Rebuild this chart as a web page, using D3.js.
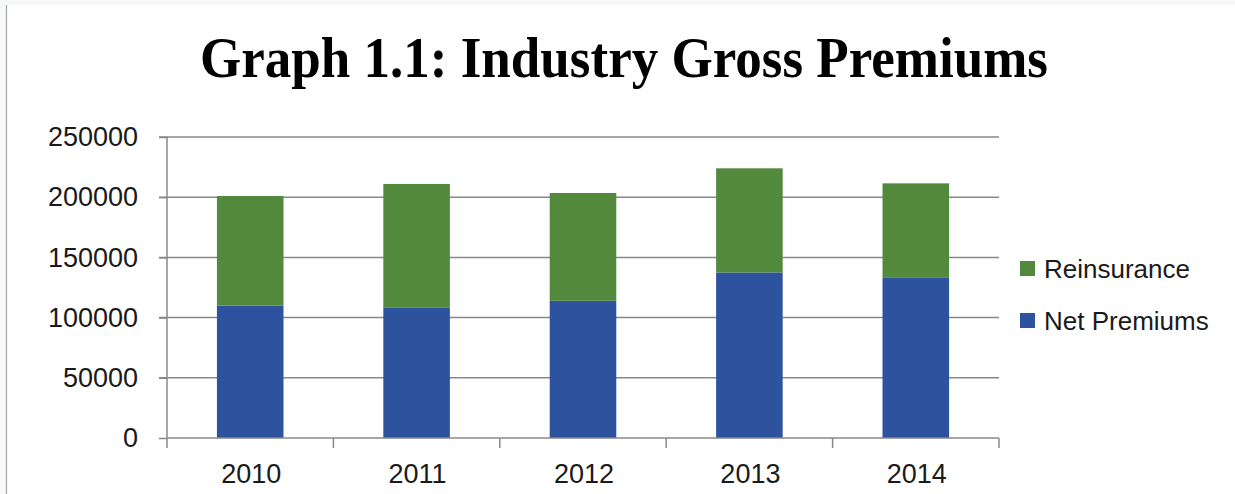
<!DOCTYPE html>
<html>
<head>
<meta charset="utf-8">
<script src="https://cdn.jsdelivr.net/npm/d3@7"></script>
<style>
  body { margin: 0; background: #fff; }
  svg { display: block; }
</style>
</head>
<body>
<div id="chart"></div>
<script>
// data
var years = ["2010", "2011", "2012", "2013", "2014"];
var netPremiums = [110000, 108500, 114000, 137500, 133000];
var reinsurance = [91000, 102500, 89500, 86500, 78500];
var yTicks = [0, 50000, 100000, 150000, 200000, 250000];
var seriesNames = ["Net Premiums", "Reinsurance"];
var seriesColors = ["#2d539e", "#52893d"];

var W = 1235, H = 494;
var margin = { top: 137, right: 236, bottom: 56, left: 167 };
var width = W - margin.left - margin.right,
  height = H - margin.top - margin.bottom;

var svg = d3.select("#chart")
  .append("svg")
  .attr("width", W)
  .attr("height", H);

// outer frame (page edge)
svg.append("rect").attr("x", 0).attr("y", 0).attr("width", W).attr("height", 5).attr("fill", "#f7f8fa");
svg.append("rect").attr("x", 0).attr("y", 0).attr("width", 6).attr("height", H).attr("fill", "#f7f8fa");
svg.append("line").attr("x1", 6.5).attr("x2", 6.5).attr("y1", 5).attr("y2", H)
  .attr("stroke", "#a6a6a6").attr("stroke-width", 1.2);

// title
svg.append("text")
  .attr("x", 624)
  .attr("y", 77)
  .attr("text-anchor", "middle")
  .attr("font-family", "Liberation Serif, Times New Roman, serif")
  .attr("font-weight", "bold")
  .attr("font-size", 58)
  .attr("textLength", 848)
  .attr("lengthAdjust", "spacingAndGlyphs")
  .attr("fill", "#000")
  .text("Graph 1.1: Industry Gross Premiums");

var g = svg.append("g")
  .attr("transform", "translate(" + margin.left + "," + margin.top + ")");

var x = d3.scaleBand()
  .domain(years)
  .range([0, width])
  .paddingInner(0.6)
  .paddingOuter(0.3);

var y = d3.scaleLinear()
  .domain([0, 250000])
  .range([height, 0]);

// gridlines
g.append("g")
  .selectAll("line")
  .data(yTicks.filter(function(d) { return d > 0; }))
  .enter().append("line")
  .attr("x1", -8)
  .attr("x2", width)
  .attr("y1", function(d) { return y(d); })
  .attr("y2", function(d) { return y(d); })
  .attr("stroke", "#888888")
  .attr("stroke-width", 1.5);

// stacked bars
var rows = years.map(function(yr, i) {
  return { year: yr, "Net Premiums": netPremiums[i], "Reinsurance": reinsurance[i] };
});
var stack = d3.stack().keys(seriesNames)(rows);

g.append("g")
  .selectAll("g")
  .data(stack)
  .enter().append("g")
  .attr("fill", function(d, i) { return seriesColors[i]; })
  .selectAll("rect")
  .data(function(d) { return d; })
  .enter().append("rect")
  .attr("x", function(d) { return x(d.data.year); })
  .attr("y", function(d) { return y(d[1]); })
  .attr("width", x.bandwidth())
  .attr("height", function(d) { return y(d[0]) - y(d[1]); });

// y axis
var yAxis = g.append("g")
  .call(d3.axisLeft(y).tickValues(yTicks).tickSize(8).tickFormat(d3.format("d")));
yAxis.select(".domain").remove();
yAxis.selectAll(".tick line").attr("stroke", "#888888").attr("stroke-width", 1.5);
yAxis.selectAll(".tick text")
  .attr("x", -29)
  .attr("font-family", "Liberation Sans, Arial, sans-serif")
  .attr("font-size", 27)
  .attr("fill", "#1a1a1a");

g.append("line")
  .attr("x1", 0).attr("x2", 0)
  .attr("y1", 0).attr("y2", height + 10)
  .attr("stroke", "#888888")
  .attr("stroke-width", 1.5);

// x axis with boundary ticks
g.append("line")
  .attr("x1", 0).attr("x2", width)
  .attr("y1", height).attr("y2", height)
  .attr("stroke", "#888888")
  .attr("stroke-width", 1.5);

var step = x.step();
g.append("g")
  .selectAll("line")
  .data(years)
  .enter().append("line")
  .attr("x1", function(d) { return x(d) - x.paddingOuter() * step + step; })
  .attr("x2", function(d) { return x(d) - x.paddingOuter() * step + step; })
  .attr("y1", height)
  .attr("y2", height + 10)
  .attr("stroke", "#888888")
  .attr("stroke-width", 1.5);

g.append("g")
  .selectAll("text")
  .data(years)
  .enter().append("text")
  .attr("x", function(d) { return x(d) + x.bandwidth() / 2 + 1; })
  .attr("y", height + 45)
  .attr("text-anchor", "middle")
  .attr("font-family", "Liberation Sans, Arial, sans-serif")
  .attr("font-size", 27)
  .attr("fill", "#1a1a1a")
  .text(function(d) { return d; });

// legend (Reinsurance on top)
var legendItems = [
  { name: "Reinsurance", color: seriesColors[1] },
  { name: "Net Premiums", color: seriesColors[0] }
];
var legend = svg.append("g")
  .attr("transform", "translate(1020,261)");

var li = legend.selectAll("g")
  .data(legendItems)
  .enter().append("g")
  .attr("transform", function(d, i) { return "translate(0," + (i * 52) + ")"; });

li.append("rect")
  .attr("width", 15)
  .attr("height", 15)
  .attr("fill", function(d) { return d.color; });

li.append("text")
  .attr("x", 24)
  .attr("y", 8)
  .attr("dy", "0.35em")
  .attr("font-family", "Liberation Sans, Arial, sans-serif")
  .attr("font-size", 26)
  .attr("fill", "#1a1a1a")
  .text(function(d) { return d.name; });
</script>
</body>
</html>
